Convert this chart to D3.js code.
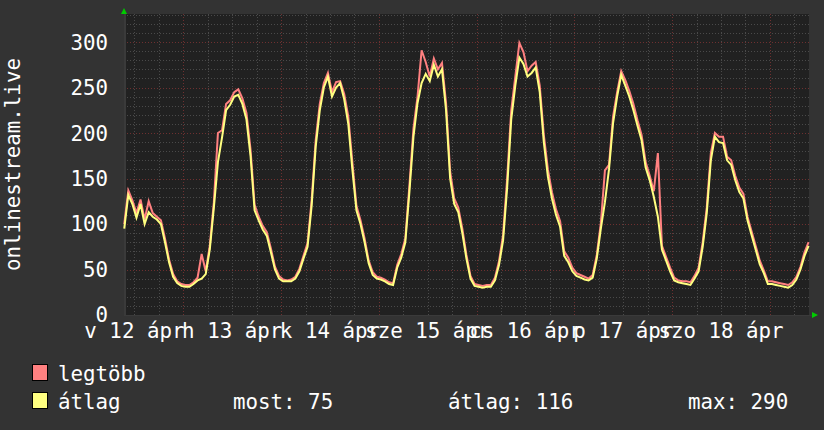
<!DOCTYPE html>
<html><head><meta charset="utf-8">
<script src="https://cdn.jsdelivr.net/npm/d3@7"></script>
<style>
html,body{margin:0;padding:0;background:#333333;}
text{font-family:"DejaVu Sans Mono",monospace;fill:#ffffff;}
</style></head>
<body>
<script>
// hours since 12 Apr 00:00; one sample per hour starting at startHour
const startHour = 9.5;
const avgValues = [95,132,122,107,122,100,113,108,105,100,80,58,42,35,32,31,31,34,38,40,45,72,118,168,195,225,231,240,242,232,215,175,115,104,94,87,69,50,40,37,37,37,40,48,62,75,120,185,225,250,262,240,250,255,237,210,160,115,100,80,57,44,40,39,37,34,33,52,63,80,135,196,233,255,265,257,275,262,270,225,150,122,113,90,62,40,32,31,30,31,31,38,55,82,140,215,252,283,276,262,266,272,245,190,152,128,110,97,65,58,48,43,41,39,38,41,62,95,124,160,211,240,264,252,240,225,208,192,162,148,130,108,72,60,48,38,36,35,34,33,40,48,75,112,170,196,190,189,170,165,148,135,128,104,88,72,56,46,34,34,33,32,31,30,33,39,50,65,76];
const maxValues = [100,137,126,112,127,105,125,112,108,104,84,61,45,37,34,33,33,36,41,67,48,76,124,200,203,232,236,245,248,238,222,182,121,108,98,91,73,53,43,39,38,39,42,51,65,79,126,192,232,255,266,245,256,257,243,218,168,120,104,84,60,47,42,41,39,36,35,55,67,84,142,205,240,291,278,262,282,270,277,233,158,128,118,95,66,43,34,33,32,33,33,41,59,88,150,225,262,299,289,268,274,278,252,198,160,135,116,103,70,63,52,46,44,42,40,44,66,101,159,165,218,245,268,258,246,232,214,198,168,153,136,178,76,64,52,41,38,37,37,36,43,52,80,118,178,200,196,196,174,170,153,140,133,108,92,76,60,49,37,37,36,35,34,33,36,42,53,69,80];
const dayLabels = ["v 12 ápr","h 13 ápr","k 14 ápr","sze 15 ápr","cs 16 ápr","p 17 ápr","szo 18 ápr"];
const dayNoonHours = [12,36,60,84,108,132,156];
const yTicks = [0,50,100,150,200,250,300];
const seriesNames = ["legtöbb","átlag"];
const seriesColors = ["#ff8080","#ffff80"];
const statLabels = ["most: 75","átlag: 116","max: 290"];
const yTitle = "onlinestream.live";

const W=824,H=430;
const svg=d3.select("body").append("svg").attr("width",W).attr("height",H);
svg.append("rect").attr("width",W).attr("height",H).attr("fill","#333333");

const L=124,R=809,T=14,B=315;
const x=d3.scaleLinear().domain([9.44,177.6]).range([L,R]);
const y=d3.scaleLinear().domain([0,330.8]).range([B,T]);

svg.append("rect").attr("x",L).attr("y",T).attr("width",R-L).attr("height",B-T).attr("fill","#212121");

// grid
const g=svg.append("g").attr("shape-rendering","crispEdges");
for(let v=10; v<=330; v+=10){
  const major = v%50===0;
  g.append("line").attr("x1",L).attr("x2",R).attr("y1",Math.round(y(v))+0.5).attr("y2",Math.round(y(v))+0.5)
   .attr("stroke",major?"#6e3030":"#4a4a4a").attr("stroke-dasharray","1,2");
}
for(let h=12; h<=177; h+=6){
  const major = h%24===0;
  g.append("line").attr("y1",T).attr("y2",B).attr("x1",Math.round(x(h))+0.5).attr("x2",Math.round(x(h))+0.5)
   .attr("stroke",major?"#6e3030":"#4a4a4a").attr("stroke-dasharray","1,2");
}
// axis lines
g.append("line").attr("x1",L+0.5).attr("x2",L+0.5).attr("y1",T).attr("y2",B+1).attr("stroke","#3a3a3a").attr("stroke-width",2);
g.append("line").attr("x1",L).attr("x2",R+3).attr("y1",B+0.5).attr("y2",B+0.5).attr("stroke","#3a3a3a");
// arrows
svg.append("path").attr("d",`M${L-3},${T}L${L+3},${T}L${L},${T-6}Z`).attr("fill","#00cc00");
svg.append("path").attr("d",`M${R+3},${B-3}L${R+3},${B+3}L${R+9},${B}Z`).attr("fill","#00cc00");

// lines
const mk=vals=>vals.map((v,i)=>[startHour+i,v]);
const line=d3.line().x(d=>x(d[0])).y(d=>y(d[1]));
svg.append("path").datum(mk(maxValues)).attr("d",line).attr("fill","none").attr("stroke",seriesColors[0]).attr("stroke-width",2);
svg.append("path").datum(mk(avgValues)).attr("d",line).attr("fill","none").attr("stroke",seriesColors[1]).attr("stroke-width",2);

// y labels
const FS="20.8px";
svg.selectAll(".yl").data(yTicks).enter().append("text")
  .attr("x",108).attr("y",d=>y(d)).attr("dy","0.36em").attr("text-anchor","end").style("font-size",FS).text(d=>d);
// x labels
svg.selectAll(".xl").data(dayLabels).enter().append("text")
  .attr("x",(d,i)=>x(dayNoonHours[i])).attr("y",338).attr("text-anchor","middle").style("font-size",FS).text(d=>d);
// y title
svg.append("text").attr("transform",`translate(20,${(T+B)/2}) rotate(-90)`).attr("text-anchor","middle").style("font-size",FS).text(yTitle);

// legend
const ly=[381,409];
seriesNames.forEach((n,i)=>{
  svg.append("rect").attr("x",32.5).attr("y",ly[i]-16.5).attr("width",15).attr("height",16).attr("fill",seriesColors[i]).attr("stroke","#000").attr("stroke-width",1);
  svg.append("text").attr("x",58).attr("y",ly[i]).style("font-size",FS).text(n);
});
const sx=[233,448,688];
statLabels.forEach((s,i)=>svg.append("text").attr("x",sx[i]).attr("y",409).style("font-size",FS).text(s));
</script>
</body></html>
